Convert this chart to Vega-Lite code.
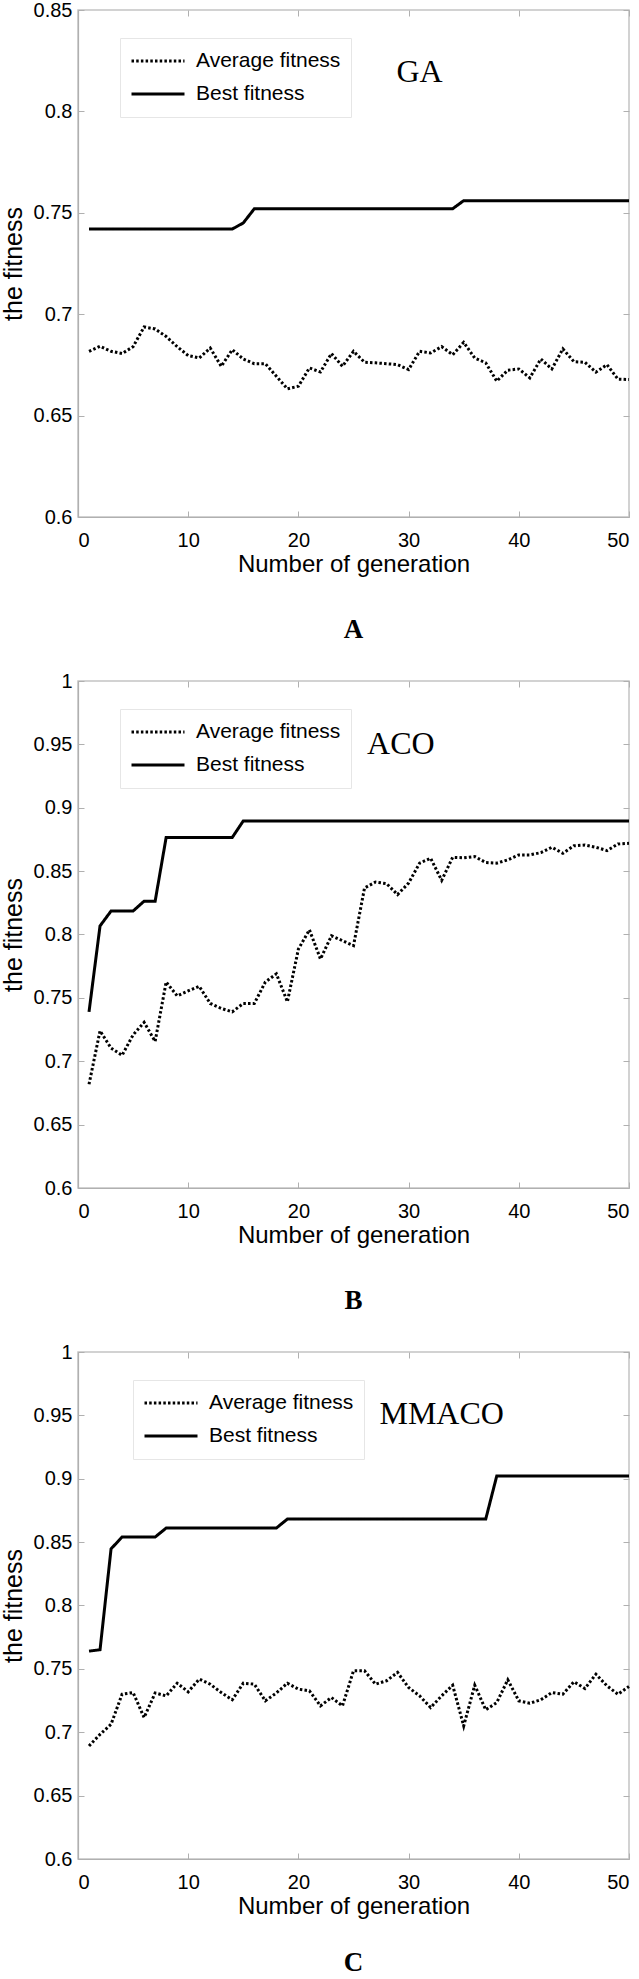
{
  "$schema": "https://vega.github.io/schema/vega-lite/v6.json",
  "padding": {"left": 0, "top": -1, "right": 0, "bottom": 0},
  "background": "white",
  "spacing": 26,
  "resolve": {"scale": {"strokeDash": "independent"}, "legend": {"strokeDash": "independent"}},
  "datasets": {
    "A": [
      {"gen":1,"Average fitness":0.6817,"Best fitness":0.742},{"gen":2,"Average fitness":0.6842,"Best fitness":0.742},{"gen":3,"Average fitness":0.6817,"Best fitness":0.742},{"gen":4,"Average fitness":0.6806,"Best fitness":0.742},{"gen":5,"Average fitness":0.684,"Best fitness":0.742},
      {"gen":6,"Average fitness":0.6937,"Best fitness":0.742},{"gen":7,"Average fitness":0.6927,"Best fitness":0.742},{"gen":8,"Average fitness":0.689,"Best fitness":0.742},{"gen":9,"Average fitness":0.684,"Best fitness":0.742},{"gen":10,"Average fitness":0.6796,"Best fitness":0.742},
      {"gen":11,"Average fitness":0.6784,"Best fitness":0.742},{"gen":12,"Average fitness":0.6833,"Best fitness":0.742},{"gen":13,"Average fitness":0.6743,"Best fitness":0.742},{"gen":14,"Average fitness":0.6825,"Best fitness":0.742},{"gen":15,"Average fitness":0.6779,"Best fitness":0.745},
      {"gen":16,"Average fitness":0.6756,"Best fitness":0.752},{"gen":17,"Average fitness":0.6756,"Best fitness":0.752},{"gen":18,"Average fitness":0.6694,"Best fitness":0.752},{"gen":19,"Average fitness":0.6632,"Best fitness":0.752},{"gen":20,"Average fitness":0.6645,"Best fitness":0.752},
      {"gen":21,"Average fitness":0.6735,"Best fitness":0.752},{"gen":22,"Average fitness":0.6715,"Best fitness":0.752},{"gen":23,"Average fitness":0.6806,"Best fitness":0.752},{"gen":24,"Average fitness":0.6743,"Best fitness":0.752},{"gen":25,"Average fitness":0.6817,"Best fitness":0.752},
      {"gen":26,"Average fitness":0.6763,"Best fitness":0.752},{"gen":27,"Average fitness":0.676,"Best fitness":0.752},{"gen":28,"Average fitness":0.6756,"Best fitness":0.752},{"gen":29,"Average fitness":0.6751,"Best fitness":0.752},{"gen":30,"Average fitness":0.6727,"Best fitness":0.752},
      {"gen":31,"Average fitness":0.6817,"Best fitness":0.752},{"gen":32,"Average fitness":0.6809,"Best fitness":0.752},{"gen":33,"Average fitness":0.684,"Best fitness":0.752},{"gen":34,"Average fitness":0.68,"Best fitness":0.752},{"gen":35,"Average fitness":0.6861,"Best fitness":0.756},
      {"gen":36,"Average fitness":0.6784,"Best fitness":0.756},{"gen":37,"Average fitness":0.676,"Best fitness":0.756},{"gen":38,"Average fitness":0.667,"Best fitness":0.756},{"gen":39,"Average fitness":0.6724,"Best fitness":0.756},{"gen":40,"Average fitness":0.673,"Best fitness":0.756},
      {"gen":41,"Average fitness":0.6686,"Best fitness":0.756},{"gen":42,"Average fitness":0.6779,"Best fitness":0.756},{"gen":43,"Average fitness":0.673,"Best fitness":0.756},{"gen":44,"Average fitness":0.6829,"Best fitness":0.756},{"gen":45,"Average fitness":0.6766,"Best fitness":0.756},
      {"gen":46,"Average fitness":0.6763,"Best fitness":0.756},{"gen":47,"Average fitness":0.6714,"Best fitness":0.756},{"gen":48,"Average fitness":0.6751,"Best fitness":0.756},{"gen":49,"Average fitness":0.668,"Best fitness":0.756},{"gen":50,"Average fitness":0.6678,"Best fitness":0.756}
    ],
    "B": [
      {"gen":1,"Average fitness":0.6818,"Best fitness":0.739},{"gen":2,"Average fitness":0.724,"Best fitness":0.8068},{"gen":3,"Average fitness":0.7104,"Best fitness":0.8185},{"gen":4,"Average fitness":0.7047,"Best fitness":0.8185},{"gen":5,"Average fitness":0.7208,"Best fitness":0.8185},
      {"gen":6,"Average fitness":0.7307,"Best fitness":0.8263},{"gen":7,"Average fitness":0.7156,"Best fitness":0.8263},{"gen":8,"Average fitness":0.7625,"Best fitness":0.8766},{"gen":9,"Average fitness":0.7516,"Best fitness":0.8766},{"gen":10,"Average fitness":0.7555,"Best fitness":0.8766},
      {"gen":11,"Average fitness":0.7591,"Best fitness":0.8766},{"gen":12,"Average fitness":0.7456,"Best fitness":0.8766},{"gen":13,"Average fitness":0.7417,"Best fitness":0.8766},{"gen":14,"Average fitness":0.739,"Best fitness":0.8766},{"gen":15,"Average fitness":0.7456,"Best fitness":0.8896},
      {"gen":16,"Average fitness":0.7456,"Best fitness":0.8896},{"gen":17,"Average fitness":0.7625,"Best fitness":0.8896},{"gen":18,"Average fitness":0.769,"Best fitness":0.8896},{"gen":19,"Average fitness":0.7469,"Best fitness":0.8896},{"gen":20,"Average fitness":0.7885,"Best fitness":0.8896},
      {"gen":21,"Average fitness":0.8037,"Best fitness":0.8896},{"gen":22,"Average fitness":0.7807,"Best fitness":0.8896},{"gen":23,"Average fitness":0.799,"Best fitness":0.8896},{"gen":24,"Average fitness":0.7951,"Best fitness":0.8896},{"gen":25,"Average fitness":0.7912,"Best fitness":0.8896},
      {"gen":26,"Average fitness":0.8367,"Best fitness":0.8896},{"gen":27,"Average fitness":0.8414,"Best fitness":0.8896},{"gen":28,"Average fitness":0.8401,"Best fitness":0.8896},{"gen":29,"Average fitness":0.8315,"Best fitness":0.8896},{"gen":30,"Average fitness":0.8406,"Best fitness":0.8896},
      {"gen":31,"Average fitness":0.8563,"Best fitness":0.8896},{"gen":32,"Average fitness":0.8602,"Best fitness":0.8896},{"gen":33,"Average fitness":0.8427,"Best fitness":0.8896},{"gen":34,"Average fitness":0.8609,"Best fitness":0.8896},{"gen":35,"Average fitness":0.8605,"Best fitness":0.8896},
      {"gen":36,"Average fitness":0.8615,"Best fitness":0.8896},{"gen":37,"Average fitness":0.8568,"Best fitness":0.8896},{"gen":38,"Average fitness":0.8563,"Best fitness":0.8896},{"gen":39,"Average fitness":0.8589,"Best fitness":0.8896},{"gen":40,"Average fitness":0.8628,"Best fitness":0.8896},
      {"gen":41,"Average fitness":0.8628,"Best fitness":0.8896},{"gen":42,"Average fitness":0.8646,"Best fitness":0.8896},{"gen":43,"Average fitness":0.8688,"Best fitness":0.8896},{"gen":44,"Average fitness":0.8641,"Best fitness":0.8896},{"gen":45,"Average fitness":0.87,"Best fitness":0.8896},
      {"gen":46,"Average fitness":0.8706,"Best fitness":0.8896},{"gen":47,"Average fitness":0.8688,"Best fitness":0.8896},{"gen":48,"Average fitness":0.8662,"Best fitness":0.8896},{"gen":49,"Average fitness":0.8714,"Best fitness":0.8896},{"gen":50,"Average fitness":0.8719,"Best fitness":0.8896}
    ],
    "C": [
      {"gen":1,"Average fitness":0.6892,"Best fitness":0.764},{"gen":2,"Average fitness":0.6983,"Best fitness":0.7651},{"gen":3,"Average fitness":0.7063,"Best fitness":0.8447},{"gen":4,"Average fitness":0.73,"Best fitness":0.854},{"gen":5,"Average fitness":0.7313,"Best fitness":0.854},
      {"gen":6,"Average fitness":0.7116,"Best fitness":0.854},{"gen":7,"Average fitness":0.731,"Best fitness":0.854},{"gen":8,"Average fitness":0.7287,"Best fitness":0.8611},{"gen":9,"Average fitness":0.7387,"Best fitness":0.8611},{"gen":10,"Average fitness":0.7319,"Best fitness":0.8611},
      {"gen":11,"Average fitness":0.7419,"Best fitness":0.8611},{"gen":12,"Average fitness":0.7379,"Best fitness":0.8611},{"gen":13,"Average fitness":0.7313,"Best fitness":0.8611},{"gen":14,"Average fitness":0.7256,"Best fitness":0.8611},{"gen":15,"Average fitness":0.7387,"Best fitness":0.8611},
      {"gen":16,"Average fitness":0.7379,"Best fitness":0.8611},{"gen":17,"Average fitness":0.7248,"Best fitness":0.8611},{"gen":18,"Average fitness":0.731,"Best fitness":0.8611},{"gen":19,"Average fitness":0.7387,"Best fitness":0.8682},{"gen":20,"Average fitness":0.734,"Best fitness":0.8682},
      {"gen":21,"Average fitness":0.7327,"Best fitness":0.8682},{"gen":22,"Average fitness":0.7208,"Best fitness":0.8682},{"gen":23,"Average fitness":0.7274,"Best fitness":0.8682},{"gen":24,"Average fitness":0.7208,"Best fitness":0.8682},{"gen":25,"Average fitness":0.7485,"Best fitness":0.8682},
      {"gen":26,"Average fitness":0.7485,"Best fitness":0.8682},{"gen":27,"Average fitness":0.7379,"Best fitness":0.8682},{"gen":28,"Average fitness":0.7406,"Best fitness":0.8682},{"gen":29,"Average fitness":0.7472,"Best fitness":0.8682},{"gen":30,"Average fitness":0.7353,"Best fitness":0.8682},
      {"gen":31,"Average fitness":0.7287,"Best fitness":0.8682},{"gen":32,"Average fitness":0.7195,"Best fitness":0.8682},{"gen":33,"Average fitness":0.7287,"Best fitness":0.8682},{"gen":34,"Average fitness":0.7371,"Best fitness":0.8682},{"gen":35,"Average fitness":0.705,"Best fitness":0.8682},
      {"gen":36,"Average fitness":0.7371,"Best fitness":0.8682},{"gen":37,"Average fitness":0.7177,"Best fitness":0.8682},{"gen":38,"Average fitness":0.7234,"Best fitness":0.9022},{"gen":39,"Average fitness":0.7414,"Best fitness":0.9022},{"gen":40,"Average fitness":0.7248,"Best fitness":0.9022},
      {"gen":41,"Average fitness":0.7229,"Best fitness":0.9022},{"gen":42,"Average fitness":0.7256,"Best fitness":0.9022},{"gen":43,"Average fitness":0.7313,"Best fitness":0.9022},{"gen":44,"Average fitness":0.73,"Best fitness":0.9022},{"gen":45,"Average fitness":0.7398,"Best fitness":0.9022},
      {"gen":46,"Average fitness":0.7345,"Best fitness":0.9022},{"gen":47,"Average fitness":0.7458,"Best fitness":0.9022},{"gen":48,"Average fitness":0.7366,"Best fitness":0.9022},{"gen":49,"Average fitness":0.73,"Best fitness":0.9022},{"gen":50,"Average fitness":0.7361,"Best fitness":0.9022}
    ],
    "labelA": [{"gen":31,"value":0.8195,"label":"GA"}],
    "labelB": [{"gen":29.3,"value":0.95,"label":"ACO"}],
    "labelC": [{"gen":33,"value":0.951,"label":"MMACO"}]
  },
  "vconcat": [
    {
      "width": 551, "height": 507,
      "title": {"text": "A", "orient": "bottom", "font": "Liberation Serif", "fontWeight": "bold", "fontSize": 27, "offset": 41, "color": "black"},
      "layer": [
        {
          "data": {"name": "A"},
          "transform": [{"fold": ["Average fitness", "Best fitness"], "as": ["series", "value"]}],
          "mark": {"type": "line", "strokeWidth": 3, "color": "black", "strokeCap": "butt"},
          "encoding": {
            "x": {"field": "gen", "type": "quantitative", "scale": {"domain": [0, 50], "nice": false}, "axis": {"orient": "bottom", "values": [0,10,20,30,40,50], "title": "Number of generation"}},
            "y": {"field": "value", "type": "quantitative", "scale": {"domain": [0.6, 0.85], "nice": false, "zero": false}, "axis": {"orient": "left", "values": [0.6,0.65,0.7,0.75,0.8,0.85], "format": "~g", "title": "the fitness"}},
            "strokeDash": {"field": "series", "type": "nominal", "scale": {"domain": ["Average fitness", "Best fitness"], "range": [[2.5, 2.2], [1, 0]]},
              "legend": {"orient": "none", "legendX": 42, "legendY": 28, "title": null}}
          }
        },
        {
          "data": {"name": "labelA"},
          "mark": {"type": "text", "font": "Liberation Serif", "fontSize": 32, "color": "black", "align": "center", "baseline": "middle"},
          "encoding": {
            "x": {"field": "gen", "type": "quantitative", "axis": {"orient": "top", "values": [0,10,20,30,40,50], "labels": false, "title": null, "domain": false}},
            "y": {"field": "value", "type": "quantitative", "axis": {"orient": "right", "values": [0.6,0.65,0.7,0.75,0.8,0.85], "labels": false, "title": null, "domain": false}},
            "text": {"field": "label"}
          }
        }
      ],
      "resolve": {"axis": {"x": "independent", "y": "independent"}}
    },
    {
      "width": 551, "height": 507,
      "title": {"text": "B", "orient": "bottom", "font": "Liberation Serif", "fontWeight": "bold", "fontSize": 27, "offset": 41, "color": "black"},
      "layer": [
        {
          "data": {"name": "B"},
          "transform": [{"fold": ["Average fitness", "Best fitness"], "as": ["series", "value"]}],
          "mark": {"type": "line", "strokeWidth": 3, "color": "black", "strokeCap": "butt"},
          "encoding": {
            "x": {"field": "gen", "type": "quantitative", "scale": {"domain": [0, 50], "nice": false}, "axis": {"orient": "bottom", "values": [0,10,20,30,40,50], "title": "Number of generation"}},
            "y": {"field": "value", "type": "quantitative", "scale": {"domain": [0.6, 1], "nice": false, "zero": false}, "axis": {"orient": "left", "values": [0.6,0.65,0.7,0.75,0.8,0.85,0.9,0.95,1], "format": "~g", "title": "the fitness"}},
            "strokeDash": {"field": "series", "type": "nominal", "scale": {"domain": ["Average fitness", "Best fitness"], "range": [[2.5, 2.2], [1, 0]]},
              "legend": {"orient": "none", "legendX": 42, "legendY": 28, "title": null}}
          }
        },
        {
          "data": {"name": "labelB"},
          "mark": {"type": "text", "font": "Liberation Serif", "fontSize": 32, "color": "black", "align": "center", "baseline": "middle"},
          "encoding": {
            "x": {"field": "gen", "type": "quantitative", "axis": {"orient": "top", "values": [0,10,20,30,40,50], "labels": false, "title": null, "domain": false}},
            "y": {"field": "value", "type": "quantitative", "axis": {"orient": "right", "values": [0.6,0.65,0.7,0.75,0.8,0.85,0.9,0.95,1], "labels": false, "title": null, "domain": false}},
            "text": {"field": "label"}
          }
        }
      ],
      "resolve": {"axis": {"x": "independent", "y": "independent"}}
    },
    {
      "width": 551, "height": 507,
      "title": {"text": "C", "orient": "bottom", "font": "Liberation Serif", "fontWeight": "bold", "fontSize": 27, "offset": 32, "color": "black"},
      "layer": [
        {
          "data": {"name": "C"},
          "transform": [{"fold": ["Average fitness", "Best fitness"], "as": ["series", "value"]}],
          "mark": {"type": "line", "strokeWidth": 3, "color": "black", "strokeCap": "butt"},
          "encoding": {
            "x": {"field": "gen", "type": "quantitative", "scale": {"domain": [0, 50], "nice": false}, "axis": {"orient": "bottom", "values": [0,10,20,30,40,50], "title": "Number of generation"}},
            "y": {"field": "value", "type": "quantitative", "scale": {"domain": [0.6, 1], "nice": false, "zero": false}, "axis": {"orient": "left", "values": [0.6,0.65,0.7,0.75,0.8,0.85,0.9,0.95,1], "format": "~g", "title": "the fitness"}},
            "strokeDash": {"field": "series", "type": "nominal", "scale": {"domain": ["Average fitness", "Best fitness"], "range": [[2.5, 2.2], [1, 0]]},
              "legend": {"orient": "none", "legendX": 55, "legendY": 28, "title": null}}
          }
        },
        {
          "data": {"name": "labelC"},
          "mark": {"type": "text", "font": "Liberation Serif", "fontSize": 32, "color": "black", "align": "center", "baseline": "middle"},
          "encoding": {
            "x": {"field": "gen", "type": "quantitative", "axis": {"orient": "top", "values": [0,10,20,30,40,50], "labels": false, "title": null, "domain": false}},
            "y": {"field": "value", "type": "quantitative", "axis": {"orient": "right", "values": [0.6,0.65,0.7,0.75,0.8,0.85,0.9,0.95,1], "labels": false, "title": null, "domain": false}},
            "text": {"field": "label"}
          }
        }
      ],
      "resolve": {"axis": {"x": "independent", "y": "independent"}}
    }
  ],
  "config": {
    "view": {"stroke": "#c4c4c4", "strokeWidth": 1.5},
    "axis": {
      "labelFont": "Liberation Sans, Arial, sans-serif",
      "labelFontSize": 20,
      "labelColor": "black",
      "domainColor": "#b0b0b0",
      "domainWidth": 1.2,
      "tickColor": "#b0b0b0",
      "tickSize": -6,
      "grid": false,
      "titleColor": "black",
      "titleFontWeight": "normal"
    },
    "axisX": {"labelPadding": 19, "titleFont": "Liberation Sans, Arial, sans-serif", "titleFontSize": 24, "titlePadding": 2},
    "axisY": {"labelPadding": 12, "titleFont": "Liberation Sans, Arial, sans-serif", "titleFontSize": 25, "titlePadding": 7},
    "legend": {
      "symbolType": "stroke",
      "symbolSize": 2809,
      "symbolStrokeWidth": 3,
      "symbolStrokeColor": "black",
      "labelFont": "Liberation Sans, Arial, sans-serif",
      "labelFontSize": 21,
      "labelLimit": 300,
      "labelColor": "black",
      "labelOffset": 10,
      "padding": 10,
      "strokeColor": "#e6e6e6",
      "fillColor": "white",
      "rowPadding": 7,
      "clipHeight": 26
    }
  }
}
